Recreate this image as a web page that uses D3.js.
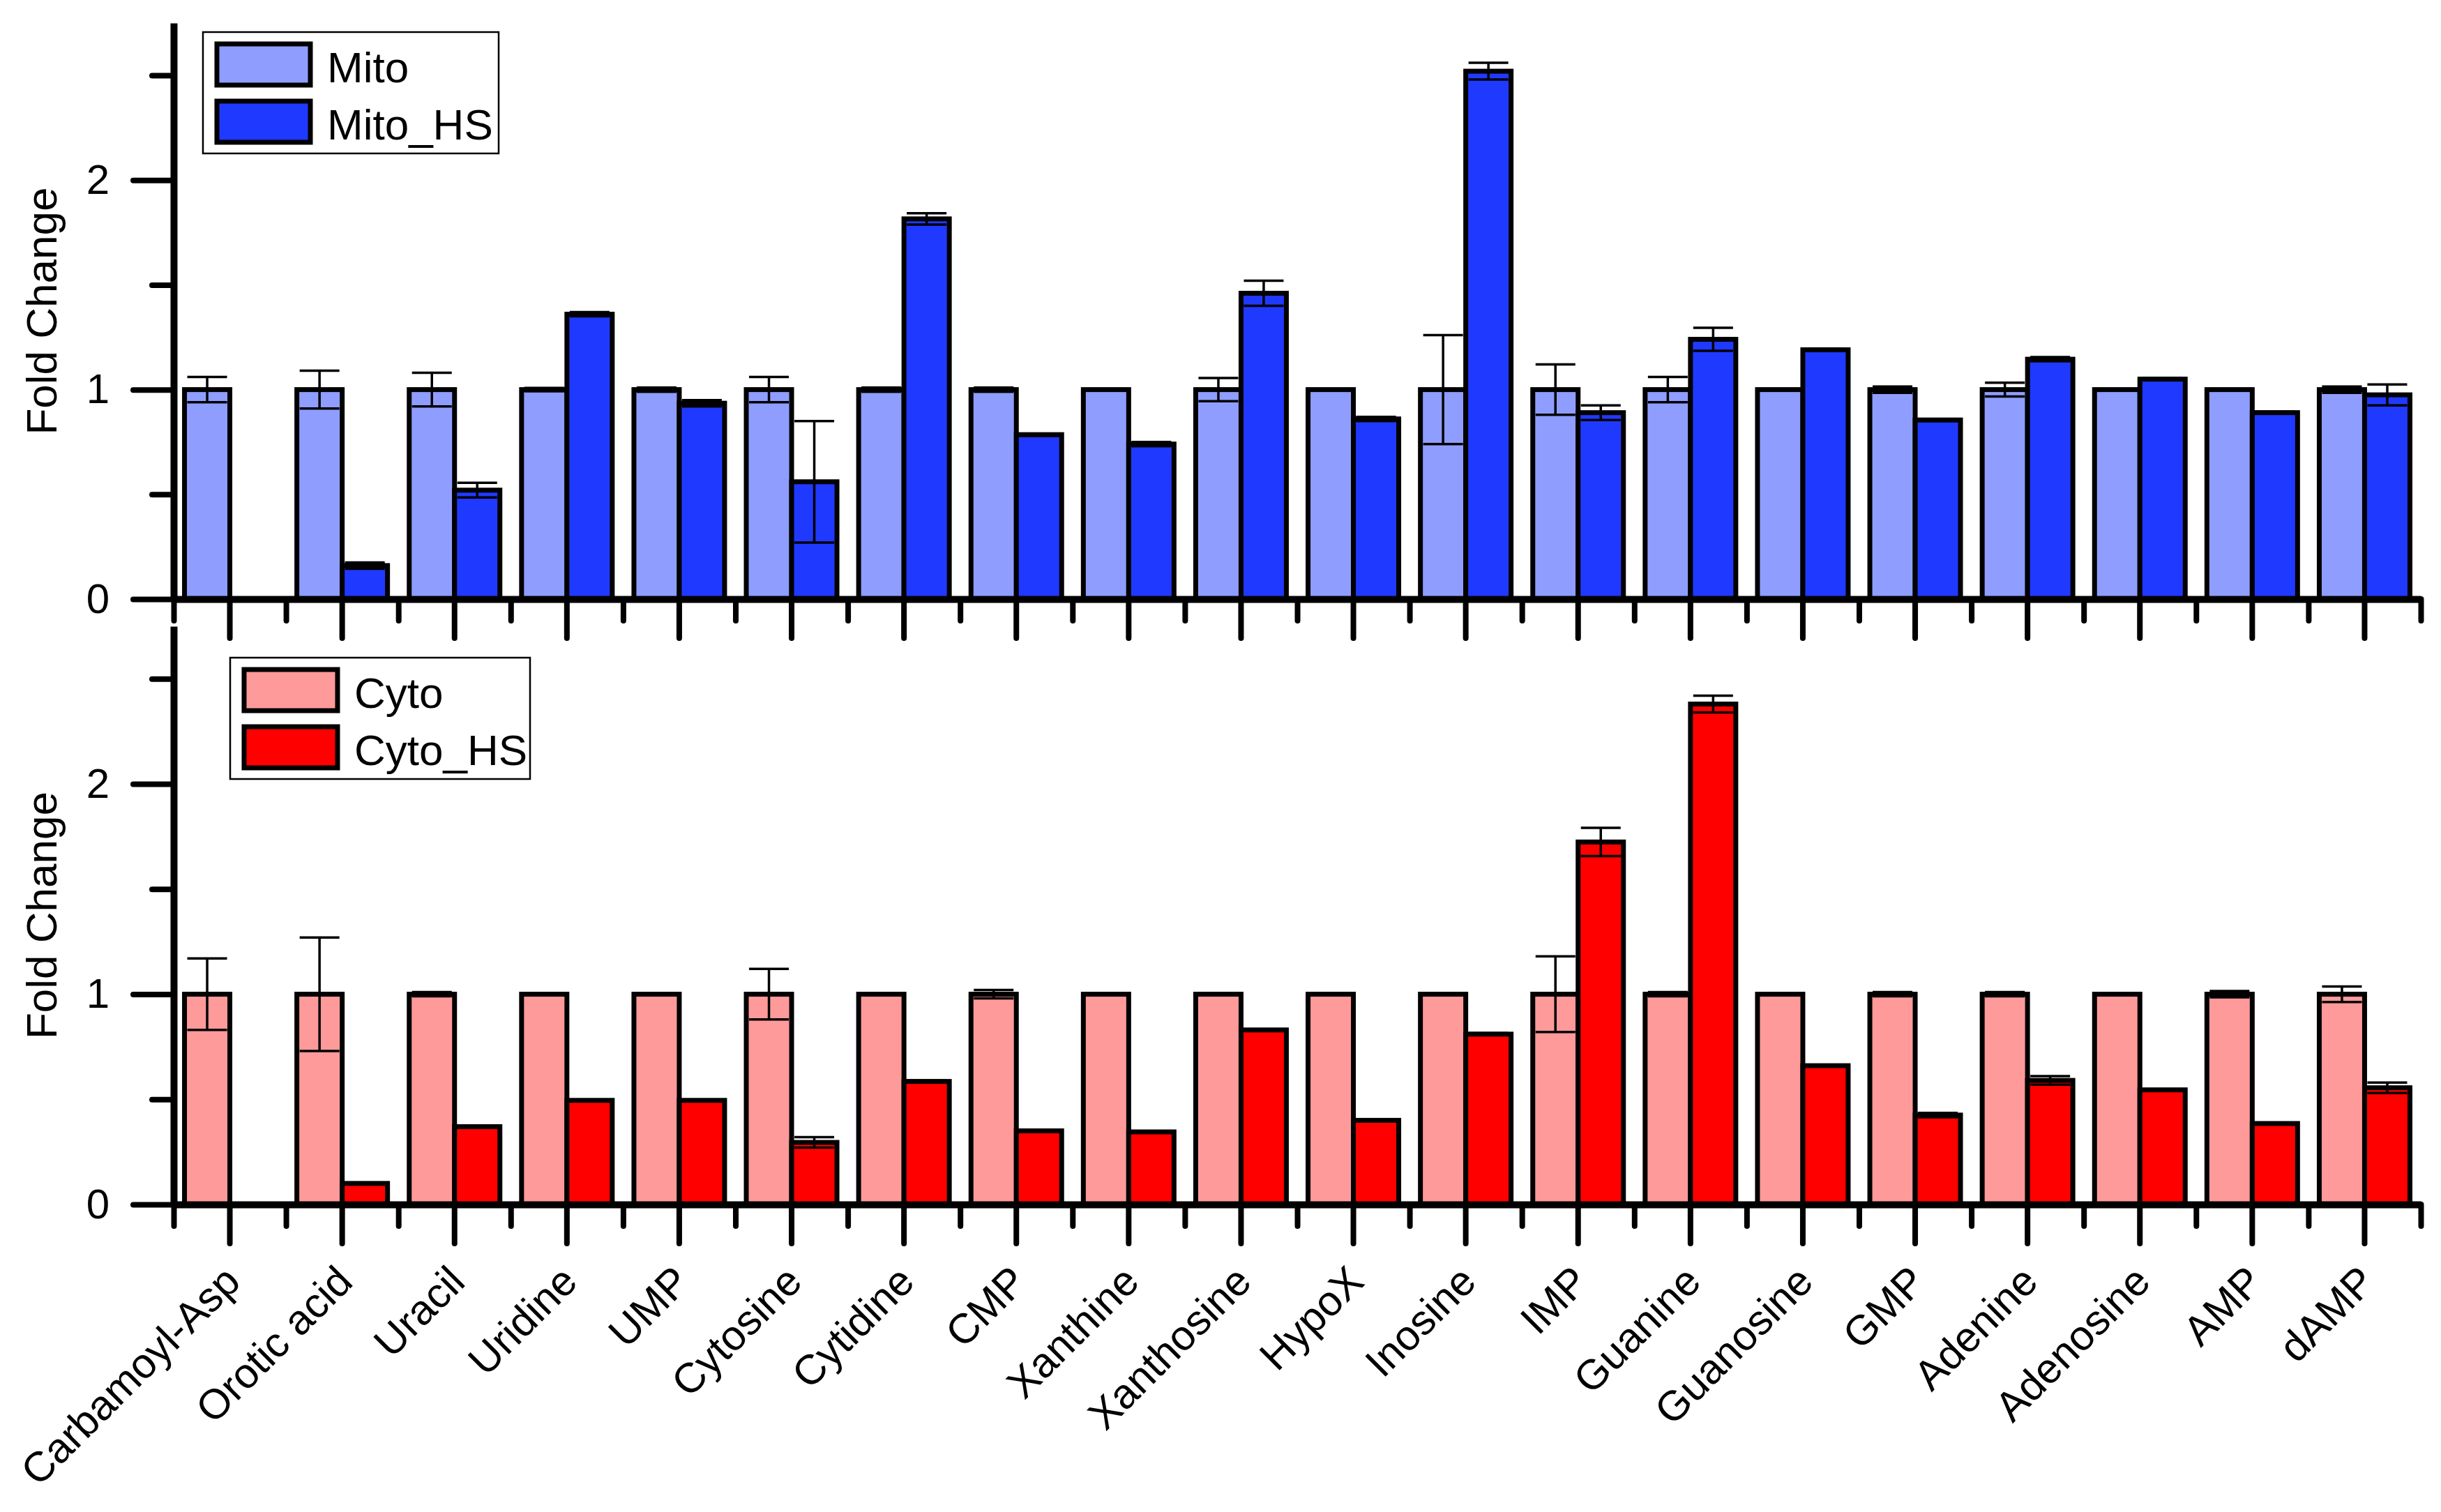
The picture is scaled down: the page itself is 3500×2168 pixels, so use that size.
<!DOCTYPE html>
<html>
<head>
<meta charset="utf-8">
<script src="https://d3js.org/d3.v7.min.js"></script>
<style>
body { margin: 0; background: #fff; }
text { font-family: "Liberation Sans", Arial, sans-serif; fill: #000; }
</style>
</head>
<body>
<div id="chart-area"></div>
<script>
var categories = ["Carbamoyl-Asp", "Orotic acid", "Uracil", "Uridine", "UMP", "Cytosine",
	"Cytidine", "CMP", "Xanthine", "Xanthosine", "HypoX", "Inosine", "IMP", "Guanine",
	"Guanosine", "GMP", "Adenine", "Adenosine", "AMP", "dAMP"];

var mitoValues = [1, 1, 1, 1, 1, 1, 1, 1, 1, 1, 1, 1, 1, 1, 1, 1, 1, 1, 1, 1];
var mitoErrors = [0.06, 0.09, 0.08, 0.008, 0.01, 0.06, 0.01, 0.01, 0, 0.055, 0, 0.26, 0.12, 0.06, 0, 0.015, 0.033, 0, 0, 0.015];
var mitoHSValues = [0, 0.16, 0.52, 1.36, 0.935, 0.56, 1.815, 0.785, 0.74, 1.46, 0.86, 2.52, 0.89, 1.24, 1.19, 0.855, 1.145, 1.05, 0.89, 0.975];
var mitoHSErrors = [0, 0.015, 0.035, 0.01, 0.015, 0.29, 0.027, 0.005, 0.01, 0.06, 0.01, 0.04, 0.035, 0.055, 0.005, 0.005, 0.01, 0.005, 0.005, 0.05];

var cytoValues = [1, 1, 1, 1, 1, 1, 1, 1, 1, 1, 1, 1, 1, 1, 1, 1, 1, 1, 1, 1];
var cytoErrors = [0.17, 0.27, 0.01, 0, 0, 0.12, 0, 0.02, 0, 0.005, 0.005, 0, 0.18, 0.01, 0, 0.01, 0.01, 0, 0.015, 0.037];
var cytoHSValues = [0, 0.10, 0.37, 0.495, 0.495, 0.295, 0.585, 0.35, 0.345, 0.83, 0.40, 0.81, 1.724, 2.38, 0.66, 0.425, 0.59, 0.545, 0.385, 0.555];
var cytoHSErrors = [0, 0, 0, 0, 0, 0.025, 0.005, 0, 0, 0, 0, 0.005, 0.067, 0.04, 0, 0.01, 0.02, 0, 0, 0.025];

var yMajorTicks = [0, 1, 2];
var yMinorTicks = [0.5, 1.5, 2.5];
var yLabel = "Fold Change";

var width = 3500;
var height = 2168;

var svg = d3.select("#chart-area")
	.append("svg")
	.attr("width", width)
	.attr("height", height);

var x = d3.scaleBand()
	.domain(categories)
	.range([249, 3471]);

// band edges for the minor ticks
var xEdge = d3.scaleLinear()
	.domain([0, categories.length])
	.range([249, 3471]);

var xSub = d3.scaleBand()
	.domain([0, 1])
	.range([-65, 65]);

var panels = [
	{
		names: ["Mito", "Mito_HS"],
		values: [mitoValues, mitoHSValues],
		errors: [mitoErrors, mitoHSErrors],
		colors: ["#8f9efe", "#2039fe"],
		y: d3.scaleLinear().domain([0, 2.75]).range([859, 33]),
		legend: { x: 291, y: 46, w: 424, h: 174 },
		labels: false
	},
	{
		names: ["Cyto", "Cyto_HS"],
		values: [cytoValues, cytoHSValues],
		errors: [cytoErrors, cytoHSErrors],
		colors: ["#fe9a9a", "#fe0000"],
		y: d3.scaleLinear().domain([0, 2.75]).range([1727, 898]),
		legend: { x: 330, y: 943, w: 430, h: 174 },
		labels: true
	}
];

panels.forEach(function (p) {
	var g = svg.append("g");

	// bars
	p.names.forEach(function (name, s) {
		var rows = categories.map(function (c, i) {
			return { cat: c, v: p.values[s][i], e: p.errors[s][i] };
		});

		g.append("g").selectAll("rect")
			.data(rows.filter(d => d.v > 0))
			.enter().append("rect")
			.attr("x", d => x(d.cat) + x.bandwidth() / 2 + xSub(s))
			.attr("y", d => p.y(d.v))
			.attr("width", xSub.bandwidth())
			.attr("height", d => p.y(0) - p.y(d.v))
			.attr("fill", p.colors[s])
			.attr("stroke", "#000")
			.attr("stroke-width", 7);

		var err = g.append("g").selectAll("g")
			.data(rows.filter(d => d.v > 0 && d.e > 0))
			.enter().append("g")
			.attr("stroke", "#000")
			.attr("stroke-width", 3.5);

		var cx = d => x(d.cat) + x.bandwidth() / 2 + xSub(s) + xSub.bandwidth() / 2;

		err.append("line")
			.attr("x1", cx).attr("x2", cx)
			.attr("y1", d => p.y(d.v - d.e))
			.attr("y2", d => p.y(d.v + d.e));
		err.append("line")
			.attr("x1", d => cx(d) - 28.5).attr("x2", d => cx(d) + 28.5)
			.attr("y1", d => p.y(d.v + d.e))
			.attr("y2", d => p.y(d.v + d.e));
		err.append("line")
			.attr("x1", d => cx(d) - 28.5).attr("x2", d => cx(d) + 28.5)
			.attr("y1", d => p.y(d.v - d.e))
			.attr("y2", d => p.y(d.v - d.e));
	});

	// y axis
	var yAxisG = g.append("g")
		.attr("transform", "translate(249,0)")
		.call(d3.axisLeft(p.y)
			.tickValues(yMajorTicks)
			.tickSize(58)
			.tickSizeOuter(0)
			.tickPadding(34)
			.tickFormat(d3.format("d")));

	var yMinorG = g.append("g")
		.attr("transform", "translate(249,0)")
		.call(d3.axisLeft(p.y)
			.tickValues(yMinorTicks)
			.tickSize(31)
			.tickFormat(""));
	yMinorG.select(".domain").remove();

	// x axis
	var xAxisG = g.append("g")
		.attr("transform", "translate(0," + p.y(0) + ")")
		.call(d3.axisBottom(x)
			.tickSize(56)
			.tickSizeOuter(0)
			.tickFormat(""));

	var xMinorG = g.append("g")
		.attr("transform", "translate(0," + p.y(0) + ")")
		.call(d3.axisBottom(xEdge)
			.tickValues(d3.range(categories.length + 1))
			.tickSize(31)
			.tickFormat(""));
	xMinorG.select(".domain").remove();

	[yAxisG, yMinorG, xAxisG, xMinorG].forEach(function (a) {
		a.selectAll(".domain").attr("stroke", "#000").attr("stroke-width", 10);
		a.selectAll(".tick line").attr("stroke", "#000").attr("stroke-width", 8).attr("stroke-linecap", "round");
		a.selectAll(".tick text").attr("font-size", "60px").attr("font-family", "Liberation Sans, Arial, sans-serif");
	});

	svg.append("text")
		.attr("transform", "translate(81," + (p.y(0) + p.y(2.75)) / 2 + ") rotate(-90)")
		.attr("text-anchor", "middle")
		.attr("font-size", "62px")
		.text(yLabel);

	if (p.labels) {
		g.selectAll(".x-label")
			.data(categories)
			.enter().append("text")
			.attr("class", "x-label")
			.attr("transform", d => "translate(" + (x(d) + x.bandwidth() / 2 + 18) + "," + (p.y(0) + 114) + ") rotate(-45)")
			.attr("text-anchor", "end")
			.attr("font-size", "60px")
			.text(d => d);
	}

	// legend
	var lg = g.append("g")
		.attr("transform", "translate(" + p.legend.x + "," + p.legend.y + ")");

	lg.append("rect")
		.attr("width", p.legend.w)
		.attr("height", p.legend.h)
		.attr("fill", "#fff")
		.attr("stroke", "#000")
		.attr("stroke-width", 2.5);

	var items = lg.selectAll(".item")
		.data(p.names)
		.enter().append("g")
		.attr("class", "item")
		.attr("transform", (d, i) => "translate(0," + i * 82 + ")");

	items.append("rect")
		.attr("x", 20)
		.attr("y", 17)
		.attr("width", 134)
		.attr("height", 59)
		.attr("fill", (d, i) => p.colors[i])
		.attr("stroke", "#000")
		.attr("stroke-width", 7);

	items.append("text")
		.attr("x", 178)
		.attr("y", 72)
		.attr("font-size", "62px")
		.text(d => d);
});
</script>
</body>
</html>
